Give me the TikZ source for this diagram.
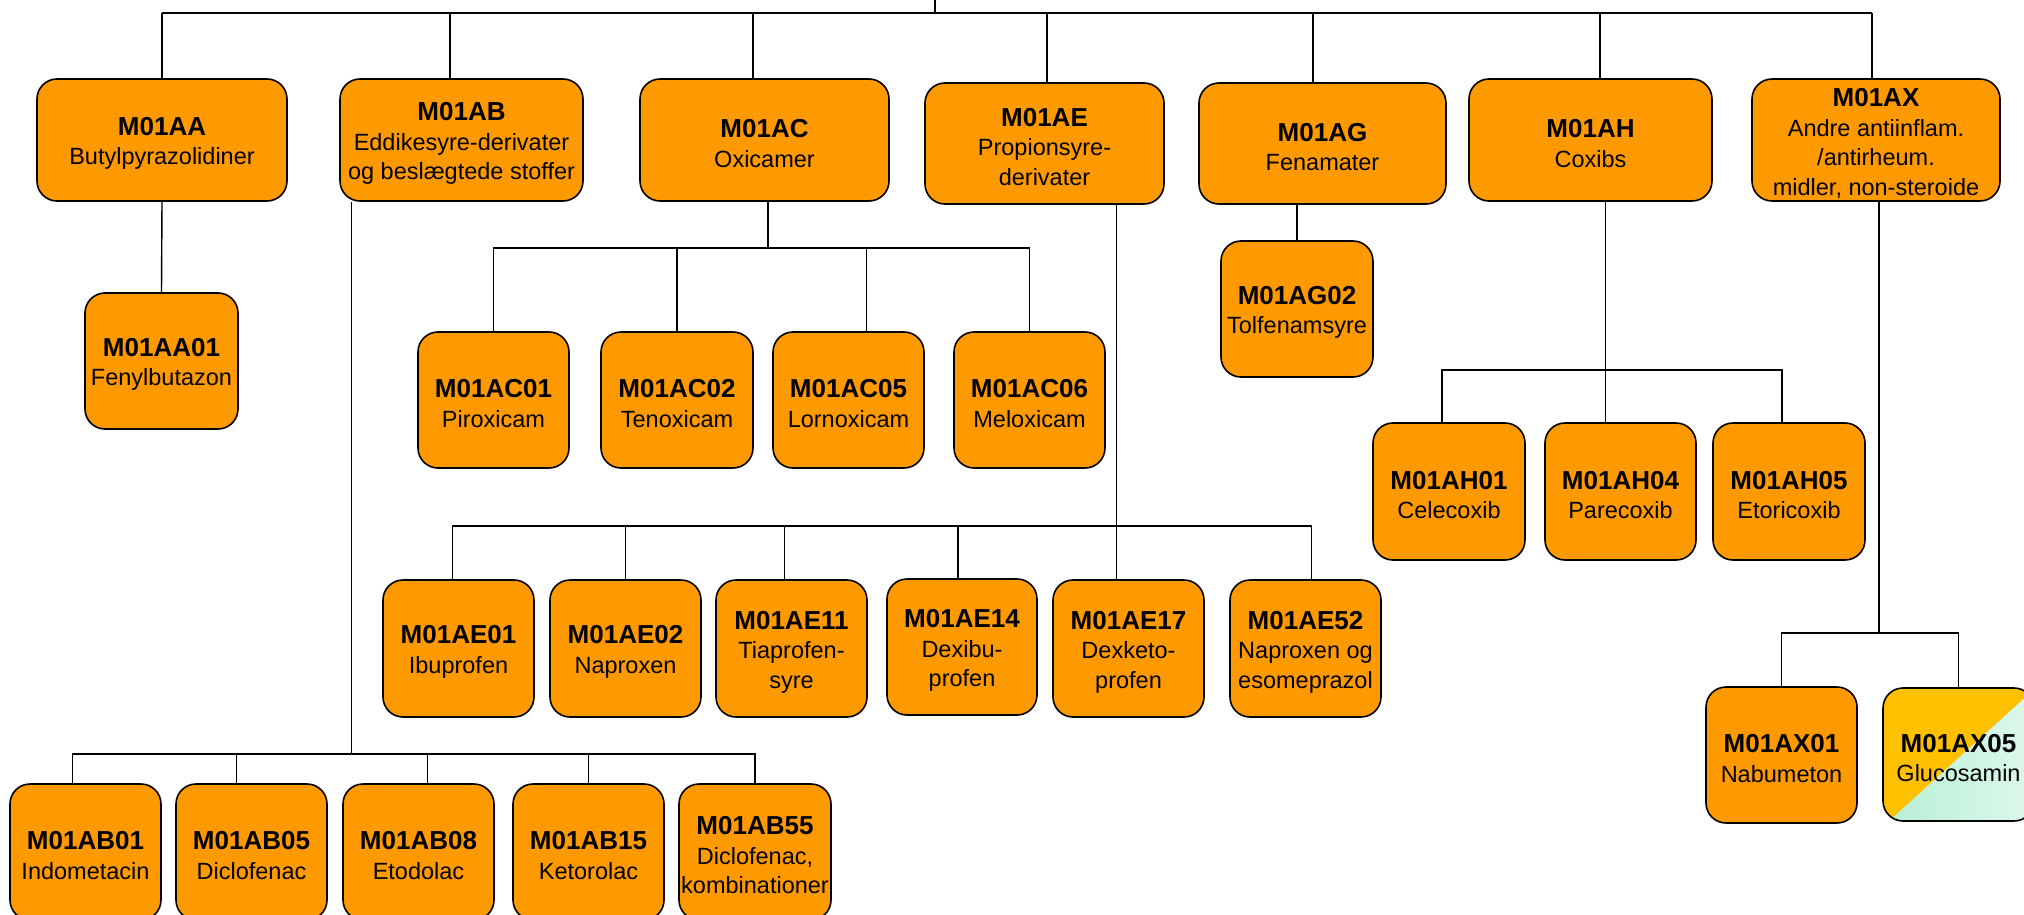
\documentclass[tikz,border=0pt]{standalone}
\usepackage{fontspec}
\setmainfont{Liberation Sans}
\definecolor{orfill}{RGB}{255,153,0}
\definecolor{yelfill}{RGB}{255,192,0}
\definecolor{mintfill}{RGB}{184,240,214}
\newcommand{\cd}[1]{{\fontsize{26}{30}\selectfont\bfseries\rule{0pt}{25pt}#1}}
\tikzset{
  box/.style={draw=black, line width=1.6pt, fill=orfill, rounded corners=20pt, align=center, inner sep=0pt, font=\fontsize{23.5}{29.5}\selectfont},
  conn/.style={draw=black, line width=1.4pt},
}
\begin{document}
\begin{tikzpicture}[x=1pt,y=-1pt]
\useasboundingbox (0,0) rectangle (2024,915);
% top level
\node[box, minimum width=250pt, minimum height=122pt] (AA) at (162,140) {\cd{M01AA}\\Butylpyrazolidiner};
\node[box, minimum width=243pt, minimum height=122pt] (AB) at (461.5,140) {\cd{M01AB}\\Eddikesyre-derivater\\og beslægtede stoffer};
\node[box, minimum width=249pt, minimum height=122pt] (AC) at (764.5,140) {\cd{M01AC}\\Oxicamer};
\node[box, minimum width=239pt, minimum height=121pt] (AE) at (1044.5,143.5) {\cd{M01AE}\\Propionsyre-\\derivater};
\node[box, minimum width=247pt, minimum height=121pt] (AG) at (1322.5,143.5) {\cd{M01AG}\\Fenamater};
\node[box, minimum width=243pt, minimum height=122pt] (AH) at (1590.5,140) {\cd{M01AH}\\Coxibs};
\node[box, minimum width=248pt, minimum height=122pt] (AX) at (1876,140) {\cd{M01AX}\\Andre antiinflam.\\/antirheum.\\midler, non-steroide};
% second level
\node[box, minimum width=153pt, minimum height=136pt] (AA01) at (161.5,361) {\cd{M01AA01}\\Fenylbutazon};
\node[box, minimum width=151pt, minimum height=136pt] (AC01) at (493.5,400) {\cd{M01AC01}\\Piroxicam};
\node[box, minimum width=152pt, minimum height=136pt] (AC02) at (677,400) {\cd{M01AC02}\\Tenoxicam};
\node[box, minimum width=151pt, minimum height=136pt] (AC05) at (848.5,400) {\cd{M01AC05}\\Lornoxicam};
\node[box, minimum width=151pt, minimum height=136pt] (AC06) at (1029.5,400) {\cd{M01AC06}\\Meloxicam};
\node[box, minimum width=152pt, minimum height=136pt] (AG02) at (1297,309) {\cd{M01AG02}\\Tolfenamsyre};
\node[box, minimum width=152pt, minimum height=137pt] (AH01) at (1449,491.5) {\cd{M01AH01}\\Celecoxib};
\node[box, minimum width=151pt, minimum height=137pt] (AH04) at (1620.5,491.5) {\cd{M01AH04}\\Parecoxib};
\node[box, minimum width=152pt, minimum height=137pt] (AH05) at (1789,491.5) {\cd{M01AH05}\\Etoricoxib};
\node[box, minimum width=151pt, minimum height=137pt] (AE01) at (458.5,648.5) {\cd{M01AE01}\\Ibuprofen};
\node[box, minimum width=151pt, minimum height=137pt] (AE02) at (625.5,648.5) {\cd{M01AE02}\\Naproxen};
\node[box, minimum width=151pt, minimum height=137pt] (AE11) at (791.5,648.5) {\cd{M01AE11}\\Tiaprofen-\\syre};
\node[box, minimum width=150pt, minimum height=136pt] (AE14) at (962,647) {\cd{M01AE14}\\Dexibu-\\profen};
\node[box, minimum width=151pt, minimum height=137pt] (AE17) at (1128.5,648.5) {\cd{M01AE17}\\Dexketo-\\profen};
\node[box, minimum width=151pt, minimum height=137pt] (AE52) at (1305.5,648.5) {\cd{M01AE52}\\Naproxen og\\esomeprazol};
\node[box, minimum width=151pt, minimum height=136pt] (AX01) at (1781.5,755) {\cd{M01AX01}\\Nabumeton};
% glucosamin box with split fill
\begin{scope}
\clip[rounded corners=20pt] (1883,688) rectangle (2034,821);
\fill[yelfill] (1883,688) rectangle (2034,821);
\shade[left color=mintfill, right color=mintfill!45!white] (1889,821) -- (2040,684) -- (2040,821) -- cycle;
\end{scope}
\node[box, fill=none, minimum width=151pt, minimum height=133pt] (AX05) at (1958.5,754.5) {\cd{M01AX05}\\Glucosamin};
% third level (AB children)
\node[box, minimum width=151pt, minimum height=136pt] (AB01) at (85.5,852) {\cd{M01AB01}\\Indometacin};
\node[box, minimum width=151pt, minimum height=136pt] (AB05) at (251.5,852) {\cd{M01AB05}\\Diclofenac};
\node[box, minimum width=151pt, minimum height=136pt] (AB08) at (418.5,852) {\cd{M01AB08}\\Etodolac};
\node[box, minimum width=151pt, minimum height=136pt] (AB15) at (588.5,852) {\cd{M01AB15}\\Ketorolac};
\node[box, minimum width=152pt, minimum height=136pt] (AB55) at (755,852) {\cd{M01AB55}\\Diclofenac,\\kombinationer};
% connectors
\coordinate (root) at (935,0);
\coordinate (topbus) at (935,13);
\draw[conn, line width=1.8pt] (root) -- (topbus);
\draw[conn, line width=1.8pt] (AA.north |- topbus) -- ([xshift=-4pt]AX.north |- topbus);
\draw[conn] (AA.north) -- (AA.north |- topbus);
\draw[conn] ([xshift=-4pt]AX.north) -- ([xshift=-4pt]AX.north |- topbus);
\draw[conn] ([xshift=-11.5pt]AB.north) -- ([xshift=-11.5pt]AB.north |- topbus);
\draw[conn] ([xshift=-11.5pt]AC.north) -- ([xshift=-11.5pt]AC.north |- topbus);
\draw[conn] ([xshift=2.5pt]AE.north) -- ([xshift=2.5pt]AE.north |- topbus);
\draw[conn] ([xshift=-9.5pt]AG.north) -- ([xshift=-9.5pt]AG.north |- topbus);
\draw[conn] ([xshift=9.5pt]AH.north) -- ([xshift=9.5pt]AH.north |- topbus);
% AA
\draw[conn] (AA.south) -- (AA01.north);
% AG
\draw[conn] (AG02.north |- AG.south) -- (AG02.north);
% AC
\coordinate (acbus) at (768,248);
\draw[conn] ([xshift=3.5pt]AC.south) -- ([xshift=3.5pt]AC.south |- acbus);
\draw[conn] (AC01.north) -- (AC01.north |- acbus) -- (AC06.north |- acbus) -- (AC06.north);
\draw[conn] (AC02.north) -- (AC02.north |- acbus);
\draw[conn] ([xshift=18pt]AC05.north) -- ([xshift=18pt]AC05.north |- acbus);
% AE
\coordinate (aebus) at (1116,526);
\draw[conn] ([xshift=-12pt]AE17.north |- AE.south) -- ([xshift=-12pt]AE17.north);
\draw[conn] ([xshift=-6pt]AE01.north) -- ([xshift=-6pt]AE01.north |- aebus) -- ([xshift=6pt]AE52.north |- aebus) -- ([xshift=6pt]AE52.north);
\draw[conn] (AE02.north) -- (AE02.north |- aebus);
\draw[conn] ([xshift=-7pt]AE11.north) -- ([xshift=-7pt]AE11.north |- aebus);
\draw[conn] ([xshift=-4pt]AE14.north) -- ([xshift=-4pt]AE14.north |- aebus);
% AH
\coordinate (ahbus) at (1605,370);
\draw[conn] ([xshift=-15pt]AH04.north |- AH.south) -- ([xshift=-15pt]AH04.north);
\draw[conn] ([xshift=-7pt]AH01.north) -- ([xshift=-7pt]AH01.north |- ahbus) -- ([xshift=-7pt]AH05.north |- ahbus) -- ([xshift=-7pt]AH05.north);
% AX
\coordinate (axbus) at (1879,633);
\draw[conn] ([xshift=3pt]AX.south) -- ([xshift=3pt]AX.south |- axbus);
\draw[conn] (AX01.north) -- (AX01.north |- axbus) -- (AX05.north |- axbus) -- (AX05.north);
% AB
\coordinate (abbus) at (352,754);
\draw[conn] ([xshift=12pt]AB.south west) -- ([xshift=12pt]AB.south west |- abbus);
\draw[conn] ([xshift=-13pt]AB01.north) -- ([xshift=-13pt]AB01.north |- abbus) -- (AB55.north |- abbus) -- (AB55.north);
\draw[conn] ([xshift=-15pt]AB05.north) -- ([xshift=-15pt]AB05.north |- abbus);
\draw[conn] ([xshift=9pt]AB08.north) -- ([xshift=9pt]AB08.north |- abbus);
\draw[conn] (AB15.north) -- (AB15.north |- abbus);
\end{tikzpicture}
\end{document}
